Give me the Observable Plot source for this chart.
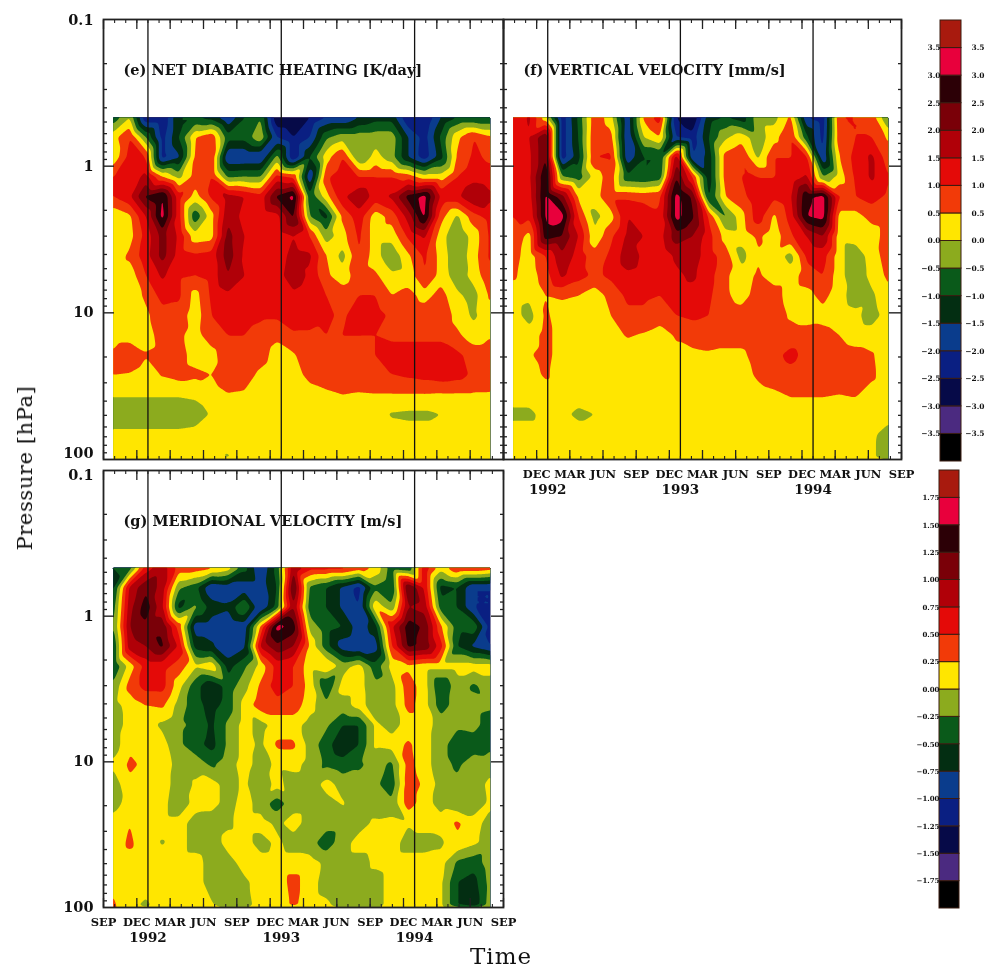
<!DOCTYPE html>
<html>
<head>
<meta charset="utf-8">
<script src="https://cdn.jsdelivr.net/npm/d3@7"></script>
<script src="https://cdn.jsdelivr.net/npm/@observablehq/plot@0.6"></script>
<style>
html,body{margin:0;padding:0;background:#fff;overflow:hidden}
#page{position:relative;width:985px;height:968px;overflow:hidden;background:#fff}
#page svg{position:absolute;background:transparent;overflow:visible;filter:blur(0.45px)}
.lab{position:absolute;font-family:"DejaVu Serif",serif;color:#111;white-space:nowrap;filter:blur(0.3px)}
</style>
</head>
<body>
<div id="page"></div>
<script>
const months = [0.87,2.35,3.82,5.30,6.77,8.25,9.72,11.2,12.67,14.15,15.62,17.1,18.57,20.05,21.52,23.0,24.47,25.95,27.42,28.9,30.37,31.85,33.32,34.8];
const pressures = [0.466,0.635,0.866,1.18,1.61,2.2,3.0,4.09,5.58,7.6,10.4,14.2,19.3,26.4,36,49.1,67,98];

const heating = [
[-.9,0,-2.5,-2.5,-1,-1,-1.2,-2,-1,-.5,-3,-3,-2.5,-2,-2,-1.5,-1.2,-1.2,-2.5,-2.5,-1.5,-1,-1,-1],
[.3,1,-.5,-2.2,-1,.5,.9,-.8,-.8,-.1,-2,-2.5,-2,-.6,-.2,-.2,-.2,-.2,-1.5,-2.2,-.9,.4,1,.6],
[.1,1.2,1,-2.2,-1.6,.6,1,-2,-2,-2,-.3,-2.5,-1,.3,1,-.5,.2,-.3,-1.5,-2.3,-1.2,.6,1.1,.9],
[1,1.1,1.7,.5,-.2,.7,1,-.6,-.5,-.5,1.2,.9,-2,.9,1.3,1,1,1,.8,.2,.2,1,1.3,1.2],
[1,1.4,2.6,3.1,1.2,.3,1.1,1.7,1.5,1.2,2.6,3.2,-.9,.3,1.4,1.9,1.3,1.6,2.7,3.2,1.4,1.4,2,1.6],
[.1,.4,1.5,3.2,1.2,-.9,.3,1.9,1.3,1.1,1.3,2.6,-.5,-1.2,.6,1.3,.2,.7,1.7,3.1,.7,-.1,.8,1.2],
[.2,.3,1.2,2.2,1.4,.2,.3,2.2,1.5,1.1,1.2,1.5,1,-.3,.3,1.1,.2,.2,1.1,1.6,.2,-.4,.2,1.1],
[.2,.6,1.3,2.2,1.3,1.1,1.2,2.3,1.4,1.1,1.2,1.7,1.6,.5,-.2,1,.2,-.4,.4,1.1,.3,-.4,.3,1.1],
[.2,.2,1,1.6,1.1,1,1.2,2,1.5,1.2,1.3,1.8,1.4,.6,.2,.8,.6,.1,.2,1,.3,-.3,.2,.9],
[.2,.2,.6,1.2,1.1,.3,1.1,1.4,1.3,1.3,1.2,1.4,1.2,1,.8,1,1,.5,.7,.3,.7,.1,-.2,.6],
[.4,.2,.4,.8,.8,.2,1,1.3,1.2,1.1,1.1,1.4,1.3,1.1,.9,1.3,1.2,.9,.9,.8,.9,.3,-.1,.3],
[.2,.2,.2,.8,.6,.3,.8,1,1,.8,.6,.9,.9,1,1,1,1,.9,.9,.9,.9,.6,.2,.45],
[.6,1,.55,.7,.7,.3,.3,.9,.9,.7,.3,.45,.8,.9,.9,.9,1,1.2,1.2,1.2,1.2,1.1,.8,.8],
[.5,.45,.2,.55,.7,.6,.5,.8,.7,.4,.2,.3,.65,.8,.9,.9,.9,1,1.1,1.2,1.3,1.2,.9,.8],
[.05,.05,.05,.05,.05,.1,.3,.48,.45,.35,.2,.25,.3,.4,.5,.45,.48,.48,.48,.48,.45,.45,.45,.45],
[-.3,-.3,-.3,-.3,-.3,-.25,.05,.2,.2,.2,.2,.2,.2,.2,.2,.2,.2,-.05,-.1,-.1,0,.1,.2,.2],
[.1,.1,.1,.1,.1,.15,.2,.2,.2,.2,.2,.2,.2,.2,.2,.2,.2,.2,.2,.2,.2,.2,.2,.2],
[.2,.2,.2,.2,.2,.2,.2,-.05,.2,.2,.2,.2,.2,.2,.2,.2,.2,.2,.2,.2,.2,.2,.2,.2]
];

const vertical = [
[1,1.6,.2,-2.3,-.9,.9,.2,-1.9,.6,1.3,-2.5,-3,-1.2,-1,-1.3,-.2,-.2,.6,-2,-2.3,1,1,.8,-.6],
[1,1.5,2.5,-2.3,-1,1,.7,-2,0,.5,-2,-2.3,-1,-.1,.3,-.3,.3,1,-.9,-2.2,.9,1,1,.4],
[1.1,1.4,2.5,-2.3,-1.2,1,1.1,-1.9,-1,-1,1.8,-2,-1.3,.7,1,-.1,1,1,1.1,-2,.5,1.2,1.6,.7],
[1.1,1.4,3,-.5,-.8,.2,.8,-.9,-1,-.8,2.5,1,-1.3,.7,1,1,1,1.1,1.6,-.5,.2,1.1,1.6,1],
[1.1,1.3,3.1,2.2,.4,.3,.9,.9,.8,.9,3.2,2.4,-1.1,.5,.8,1.4,1.1,1.4,2.9,3.2,1,1,1.2,.9],
[1,1.1,3.1,3.2,1,-.2,.3,1.5,1.4,1.1,3.2,2.6,.9,-.6,.3,1.3,.4,1.2,3,3.2,.3,.3,.7,.8],
[.9,.3,2.8,2.5,1.5,.1,.9,1.6,1.5,1.3,2.3,2,1.2,.3,.2,.6,.2,.9,1.5,2,.2,.3,.2,.8],
[.7,.25,1,1.9,1.3,.7,1.1,1.8,1.4,1.1,1.6,1.8,1.2,.8,-.2,.45,.3,-.2,1.1,1.2,.2,-.4,.3,.7],
[.6,.2,.8,1.6,1.2,.9,1.1,1.4,1.3,1.1,1.4,1.6,1.2,.6,.2,.6,.2,.2,.8,1,.2,-.4,.2,.6],
[.2,.1,.5,.6,.5,.2,.7,1.1,1.1,1,1.3,1.3,1.1,.6,.3,.7,.8,.2,.3,.7,.15,-.2,-.1,.4],
[.2,-.2,.6,.2,.2,.2,.5,.9,.9,.7,1,1.1,1,.8,.7,.8,.9,.4,.2,.3,.2,.1,-.2,.2],
[.2,.2,.7,.2,.2,.2,.3,.55,.45,.3,.55,.7,.7,.7,.7,.8,.9,.8,.8,.7,.5,.2,.2,.2],
[.2,.45,.7,.2,.2,.2,.2,.25,.25,.25,.4,.4,.45,.4,.4,.7,.9,1.1,.9,.8,.8,.7,.55,.2],
[.2,.25,.6,.2,.2,.2,.2,.2,.2,.2,.25,.25,.25,.25,.25,.6,.8,.9,.8,.8,.8,.75,.6,.2],
[.2,.2,.2,.2,.2,.2,.2,.2,.2,.2,.2,.2,.2,.2,.2,.3,.4,.55,.55,.55,.5,.55,.3,.2],
[-.1,-.1,.15,.1,-.1,0,.2,.2,.2,.2,.2,.2,.2,.2,.2,.2,.2,.2,.2,.2,.2,.2,.2,.2],
[.2,.2,.2,.2,.2,.2,.2,.2,.2,.2,.2,.2,.2,.2,.2,.2,.2,.2,.2,.2,.2,.2,.1,-.2],
[.2,.2,.2,.2,.55,.2,.2,.2,.2,.2,.2,.2,.2,.2,.2,.2,.2,.2,.2,.2,.2,.2,.1,-.3]
];

const meridional = [
[-.5,-.4,.6,.9,.4,.4,.3,.15,-.4,-1,-.4,1,.6,.6,.6,.4,.2,-.4,-.5,.7,.1,.5,.5,.4],
[-.6,.8,1.2,.9,-.2,-.4,-1,-.9,-.9,-.9,-.5,1.3,-.3,-.5,-.8,-1.1,-.3,-.5,1.3,.7,-.6,-.5,-1,-1],
[-.4,.9,1.4,.8,-.6,-.2,-.6,-.7,-.2,-1,-.4,1,-.4,-.5,-.8,-1,.2,-.2,1,.9,-.4,-.5,-1,-1],
[-.3,1,1.2,1.2,.4,-.9,-.9,-1,-.9,.3,1.6,1.4,-.1,-.4,-.5,-.9,-.6,.7,1.4,1.2,.3,-.4,-.3,-1.1],
[-.5,.9,1,1.3,.7,-.6,-.7,-1,-.8,.8,1.2,1,.2,-.4,-.9,-1,-.9,.5,1.3,1.2,.6,-.5,-.8,-1],
[-.5,.1,.6,.6,.4,.05,.2,-.6,-.3,.1,.6,.5,.1,.25,-.1,.1,-.4,.1,.2,.1,.1,.1,.1,.1],
[-.2,.35,.6,.6,.1,-.4,-.7,-.4,-.1,.3,.65,.5,.15,-.5,.1,.1,-.2,-.1,.4,.1,-.5,-.1,-.3,-.1],
[-.1,.1,.25,.3,-.1,-.4,-.6,-.4,.1,.4,.4,.4,.1,-.2,-.1,.1,-.15,-.1,.35,.1,-.4,-.1,-.15,-.2],
[-.15,.1,.1,-.05,-.2,-.3,-.55,-.2,.1,-.1,.1,.1,-.1,-.2,-.5,-.5,.05,-.1,.1,.1,-.1,-.2,-.15,-.4],
[-.15,.2,.1,.1,-.2,-.4,-.6,-.2,.1,-.05,.3,.3,-.1,-.4,-.7,-.5,.05,.1,.3,.1,-.15,-.4,-.4,-.3],
[.05,.3,.2,.15,-.1,-.1,-.3,-.1,.1,-.1,.05,.1,-.1,-.3,-.4,-.3,-.15,-.3,.35,.1,-.15,-.3,-.1,-.15],
[-.15,.2,.1,.15,-.15,.03,.1,-.1,.05,-.2,.1,-.15,-.15,.1,-.1,-.15,-.2,-.4,.4,.2,-.1,-.2,-.2,.1],
[-.1,.1,.1,.1,-.2,.1,.1,-.1,.1,-.1,-.4,-.1,-.1,-.1,.02,-.15,-.15,-.2,.4,.1,-.1,-.2,-.15,.05],
[.1,.25,.1,.1,.1,-.1,-.15,-.05,.1,.1,-.05,.1,-.1,-.15,-.15,-.1,.05,.1,.02,.1,.1,.3,.1,-.1],
[.1,.3,.1,-.02,.1,-.1,-.15,.1,.1,-.1,.05,-.1,-.15,-.4,-.1,.1,.1,.1,-.1,-.1,-.05,.2,.05,-.1],
[.1,.15,.1,.1,.1,.1,-.1,-.1,.1,.1,.1,.1,.1,-.05,-.1,-.1,.05,.1,.1,.1,.1,-.3,-.4,-.1],
[.2,.1,.1,.1,.1,.1,-.1,-.12,-.05,.1,.1,.35,.1,-.1,-.2,-.1,-.1,.1,.1,.1,.05,-.5,-.6,-.15],
[.3,.05,-.05,.1,.1,.1,.03,-.1,-.1,.1,.1,.3,.1,.05,-.1,-.1,-.1,.1,.1,.1,.05,-.5,-.7,-.1]
];

const bandColors = ["#000000","#4b2a80","#060a48","#0a1f82","#0a3c8c","#032e12","#0a5a1a","#8cab1e","#ffe600","#f23a08","#e40a08","#b00008","#7a0008","#2c0006","#e8003c","#a81a0e"];
const levelsA = [-3.5,-3,-2.5,-2,-1.5,-1,-.5,0,.5,1,1.5,2,2.5,3,3.5];
const levelsB = [-1.75,-1.5,-1.25,-1,-.75,-.5,-.25,0,.25,.5,.75,1,1.25,1.5,1.75];
const quarters = [0,3,6,9,12,15,18,21,24,27,30,33,36];
const allMonths = d3.range(0,37);
const newYears = [4,16,28];
const yearLabels = ["1992","1993","1994"];
const quarterNames = ["SEP","DEC","MAR","JUN","SEP","DEC","MAR","JUN","SEP","DEC","MAR","JUN","SEP"];
const majorP = [1,10];
const minorP = [.2,.3,.4,.5,.6,.7,.8,.9,2,3,4,5,6,7,8,9,20,30,40,50,60,70,80,90];

const page = document.getElementById("page");
const serif = "DejaVu Serif";

function table(rows){
  const out = [];
  rows.forEach((r,j)=>r.forEach((v,i)=>out.push({m:months[i],p:pressures[j],v})));
  return out;
}

function panel({rows,levels,left,top,w,h,title,names,nameFrom,yLabels}){
  const ml=50,mr=14,mt=6,mb=42;
  const marks=[
    Plot.contour(table(rows),{x:"m",y:"p",fill:"v",x1:months[0],x2:months[23],y1:pressures[0],y2:100,
      interpolate:"barycentric",thresholds:[-99,...levels],pixelSize:1,blur:1}),
    Plot.ruleX(newYears,{x:d=>d,y1:.1,y2:100,stroke:"#111",strokeWidth:1.3}),
    Plot.axisX(allMonths,{anchor:"top",tickSize:-3,tickFormat:()=>"",label:null,strokeWidth:1.1,stroke:"#222"}),
    Plot.axisX(allMonths,{anchor:"bottom",tickSize:-3,tickFormat:()=>"",label:null,strokeWidth:1.1,stroke:"#222"}),
    Plot.axisX(quarters,{anchor:"top",tickSize:-9,tickFormat:()=>"",label:null,strokeWidth:1.3,stroke:"#222"}),
    Plot.axisX(quarters,{anchor:"bottom",tickSize:-9,tickFormat:()=>"",label:null,strokeWidth:1.3,stroke:"#222"}),
    Plot.axisY(minorP,{anchor:"left",tickSize:-4,tickFormat:()=>"",label:null,strokeWidth:1.3,stroke:"#222"}),
    Plot.axisY(minorP,{anchor:"right",tickSize:-4,tickFormat:()=>"",label:null,strokeWidth:1.3,stroke:"#222"}),
    Plot.axisY(majorP,{anchor:"left",tickSize:-11,tickFormat:()=>"",label:null,strokeWidth:1.4,stroke:"#222"}),
    Plot.axisY(majorP,{anchor:"right",tickSize:-13,tickFormat:()=>"",label:null,strokeWidth:1.4,stroke:"#222"}),
    Plot.frame({stroke:"#222",strokeWidth:1.8}),
    Plot.text([title],{text:d=>d,frameAnchor:"top-left",dx:20,dy:51,lineAnchor:"middle",textAnchor:"start",
      fontFamily:serif,fontWeight:"bold",fontSize:14.5,fill:"#111"})
  ];
  if(names){
    marks.push(Plot.text(names,{x:(d,i)=>quarters[i+nameFrom],text:d=>d,frameAnchor:"bottom",dy:15,lineAnchor:"middle",
      fontFamily:serif,fontWeight:"bold",fontSize:11.5,fill:"#111"}));
    marks.push(Plot.text(yearLabels,{x:(d,i)=>newYears[i],text:d=>d,frameAnchor:"bottom",dy:30,lineAnchor:"middle",
      fontFamily:serif,fontWeight:"bold",fontSize:13.5,fill:"#111"}));
  }
  for(const [p,dy] of yLabels){
    marks.push(Plot.text([p],{y:d=>d,text:d=>String(d),frameAnchor:"left",dx:-10,dy,textAnchor:"end",lineAnchor:"middle",
      fontFamily:serif,fontWeight:"bold",fontSize:14.5,fill:"#111"}));
  }
  const svg=Plot.plot({width:w+ml+mr,height:h+mt+mb,marginLeft:ml,marginRight:mr,marginTop:mt,marginBottom:mb,
    style:{background:"transparent",overflow:"visible"},
    x:{domain:[0,36],axis:null},
    y:{type:"log",domain:[100,.1],axis:null},
    color:{type:"threshold",domain:levels,range:bandColors},
    marks});
  svg.style.left=(left-ml)+"px";
  svg.style.top=(top-mt)+"px";
  page.appendChild(svg);
}

function colorbar({levels,span,left,top,w,h,fmt,leftX,rightX,labelSize}){
  const edges=[-span,...levels,span];
  const segs=d3.range(16).map(i=>({lo:edges[i],hi:edges[i+1],c:bandColors[i]}));
  const ml=left-leftX+0, mr=rightX?rightX-left-w:4;
  const marks=[
    Plot.rectY(segs,{x1:0,x2:1,y1:"lo",y2:"hi",fill:"c",stroke:"#3a1c10",strokeWidth:1}),
    Plot.axisY(levels,{anchor:"left",tickSize:0,tickPadding:0,dx:-(ml-ml),label:null,tickFormat:fmt,
      fontFamily:serif,fontWeight:"bold",fontSize:labelSize,fill:"#111",
      frameAnchor:"left"})
  ];
  if(rightX){
    marks.push(Plot.text(levels,{y:d=>d,text:fmt,frameAnchor:"right",dx:mr,textAnchor:"end",lineAnchor:"middle",
      fontFamily:serif,fontWeight:"bold",fontSize:labelSize,fill:"#111"}));
  }
  const svg=Plot.plot({width:w+ml+mr,height:h,marginLeft:ml,marginRight:mr,marginTop:0,marginBottom:0,
    style:{background:"transparent",overflow:"visible"},
    x:{domain:[0,1],axis:null},
    y:{domain:[-span,span],axis:null},
    marks});
  svg.style.left=(left-ml)+"px";
  svg.style.top=top+"px";
  page.appendChild(svg);
}

panel({rows:heating,levels:levelsA,left:103,top:19,w:400,h:440,title:"(e) NET DIABATIC HEATING [K/day]",yLabels:[[.1,1],[1,0],[10,0],[100,-6]]});
panel({rows:vertical,levels:levelsA,left:503,top:19,w:398,h:440,title:"(f) VERTICAL VELOCITY [mm/s]",names:quarterNames.slice(1),nameFrom:1,yLabels:[]});
panel({rows:meridional,levels:levelsB,left:103,top:470,w:400,h:437,title:"(g) MERIDIONAL VELOCITY [m/s]",names:quarterNames,nameFrom:0,yLabels:[[.1,5],[1,0],[10,0],[100,0]]});

colorbar({levels:levelsA,span:4,left:940,top:20,w:21,h:441,fmt:d=>d3.format(".1f")(d),leftX:936,rightX:984,labelSize:7.5});
colorbar({levels:levelsB,span:2,left:939,top:470,w:20,h:438,fmt:d=>d3.format(".2f")(d),leftX:935,labelSize:7});

const yl=document.createElement("div");
yl.className="lab";
yl.textContent="Pressure [hPa]";
yl.style.cssText="left:25px;top:468px;font-size:21px;transform:translate(-50%,-50%) rotate(-90deg);letter-spacing:.6px";
page.appendChild(yl);
const xl=document.createElement("div");
xl.className="lab";
xl.textContent="Time";
xl.style.cssText="left:470px;top:943px;font-size:23px;letter-spacing:1px";
page.appendChild(xl);
</script>
</body>
</html>
